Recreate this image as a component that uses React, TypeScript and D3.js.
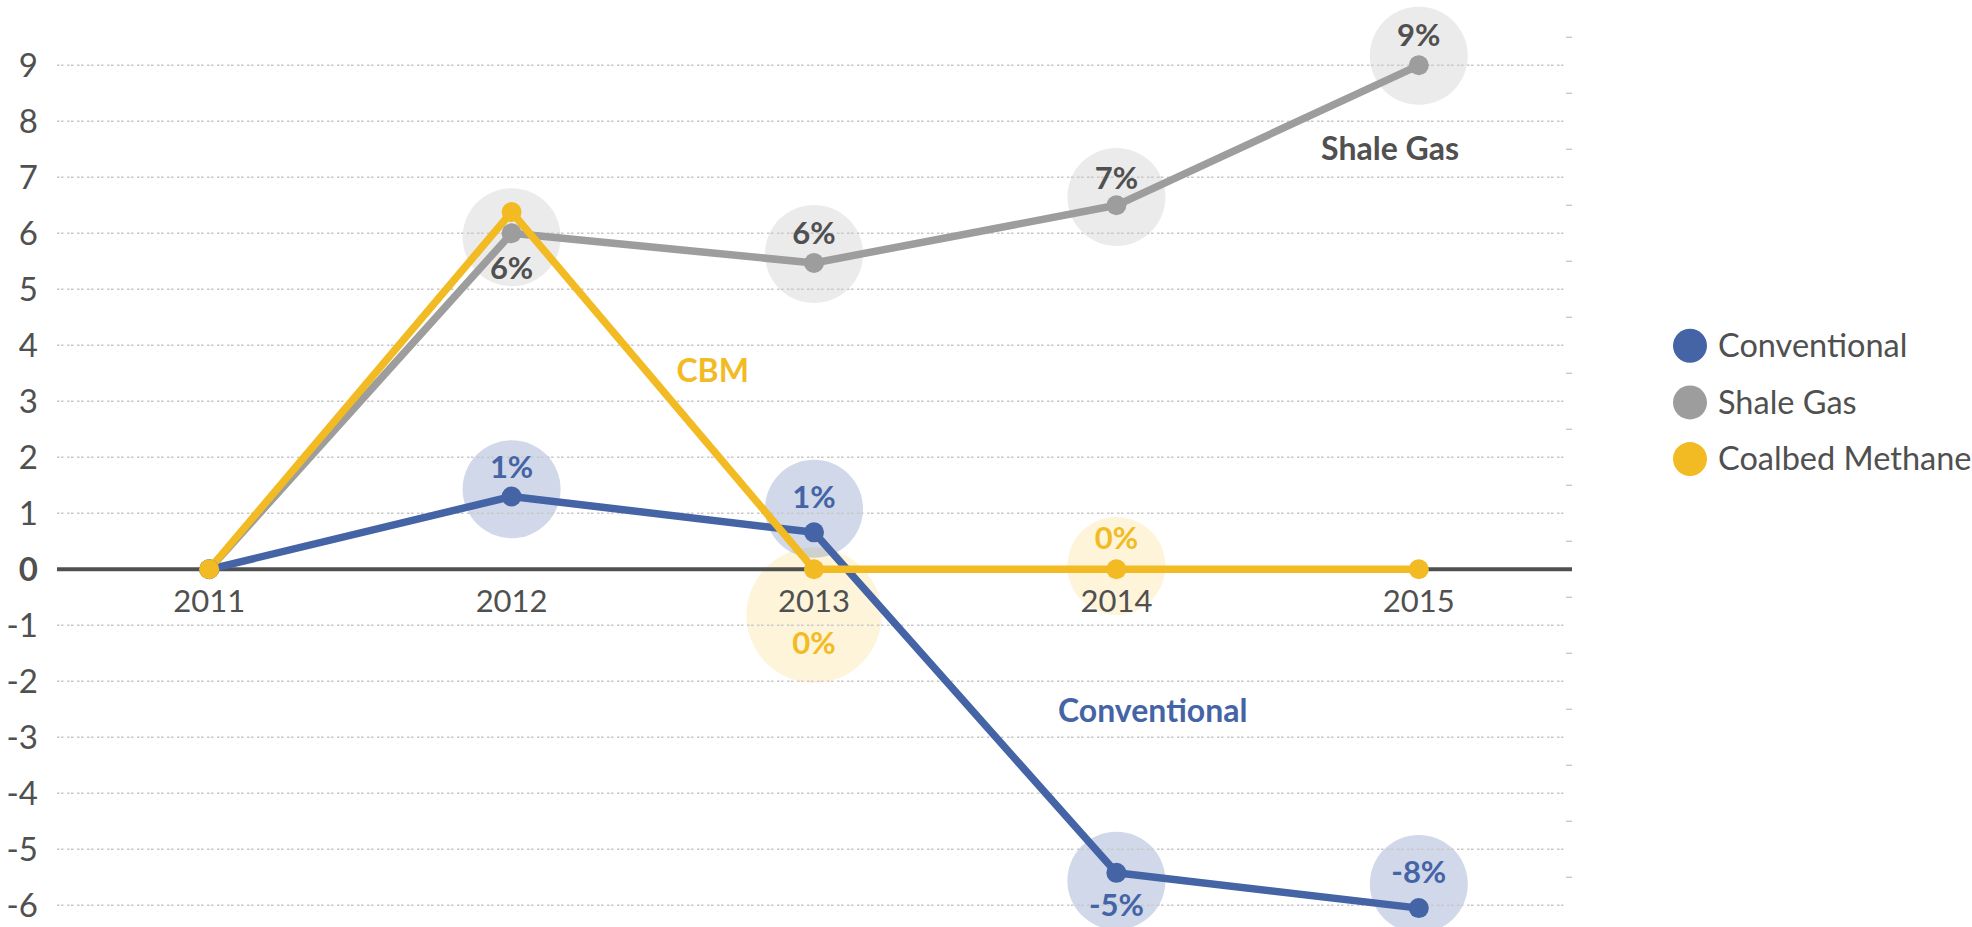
import React from 'react'
import * as d3 from 'd3'

// categories
const years = ['2011', '2012', '2013', '2014', '2015']
const yTicks = [-6, -5, -4, -3, -2, -1, 0, 1, 2, 3, 4, 5, 6, 7, 8, 9]

// series values (growth, %)
const conventional = [0, 1.3, 0.66, -5.42, -6.05]
const shaleGas = [0, 6.0, 5.47, 6.5, 9.0]
const coalbedMethane = [0, 6.38, 0, 0, 0]

// point labels, where they sit (value units) and their bubbles
const conventionalLabels = [null, '1%', '1%', '-5%', '-8%']
const conventionalLabelAt = [null, 1.83, 1.29, -5.99, -5.4]
const conventionalBubble = [null, 1.43, 1.08, -5.56, -5.62]
const conventionalBubbleSize = [0, 1, 1, 1, 1]

const shaleLabels = [null, '6%', '6%', '7%', '9%']
const shaleLabelAt = [null, 5.38, 6.0, 6.99, 9.54]
const shaleBubble = [null, 5.93, 5.63, 6.65, 9.17]
const shaleBubbleSize = [0, 1, 1, 1, 1]

const cbmLabels = [null, null, '0%', '0%', null]
const cbmLabelAt = [null, null, -1.31, 0.56, null]
const cbmBubble = [null, null, -0.82, 0.06, null]
const cbmBubbleSize = [0, 0, 1.38, 1, 0]

// series names (legend) and in-chart names: [name, year index, value]
const legendNames = ['Conventional', 'Shale Gas', 'Coalbed Methane']
const inlineNames = [
  ['Conventional', 3.12, -2.73],
  ['Shale Gas', 3.905, 7.31],
  ['CBM', 1.665, 3.35],
]

const BLUE = '#4564a6'
const GRAY = '#9d9d9d'
const YELLOW = '#f2bb24'
const TEXT = '#505050'

const series = [
  { key: 'shale', values: shaleGas, color: GRAY, text: TEXT, halo: GRAY, haloOp: 0.2, labels: shaleLabels, labelAt: shaleLabelAt, bubble: shaleBubble, size: shaleBubbleSize },
  { key: 'cbm', values: coalbedMethane, color: YELLOW, text: YELLOW, halo: YELLOW, haloOp: 0.17, labels: cbmLabels, labelAt: cbmLabelAt, bubble: cbmBubble, size: cbmBubbleSize },
  { key: 'conv', values: conventional, color: BLUE, text: BLUE, halo: BLUE, haloOp: 0.25, labels: conventionalLabels, labelAt: conventionalLabelAt, bubble: conventionalBubble, size: conventionalBubbleSize },
]

const W = 1972
const H = 927
const font = 'Lato, "Open Sans", sans-serif'

export default function App() {
  const x = d3.scalePoint().domain(years).range([58, 1570]).padding(0.5)
  const xi = d3.scaleLinear().domain([0, years.length - 1]).range([x(years[0]), x(years[years.length - 1])])
  const y = d3.scaleLinear().domain([-6, 9]).range([905.3, 65.3])

  const gridLeft = 57
  const gridRight = 1565

  const line = d3.line<number>()
    .x((d, i) => x(years[i]))
    .y(d => y(d))

  const minor = d3.range(-5.5, 9.6, 1)

  // drawing order for lines: gray, blue, yellow
  const lineOrder = [series[0], series[2], series[1]]

  return (
    <svg width={W} height={H} style={{ position: 'absolute', left: 0, top: 0, background: '#fff' }}>
      {/* bubbles */}
      <g>
        {series.map(s => s.bubble.map((b, i) => b == null ? null : (
          <circle key={s.key + 'b' + i} cx={x(years[i])} cy={y(b)} r={49 * s.size[i]} fill={s.halo} fillOpacity={s.haloOp} />
        )))}
      </g>

      {/* grid */}
      <g>
        {yTicks.filter(t => t !== 0).map(t => (
          <line key={t} x1={gridLeft} x2={gridRight} y1={y(t)} y2={y(t)} stroke="#c8c8c8" strokeWidth={1.6} strokeDasharray="2.5,1.5,2.5,3.5" />
        ))}
        {minor.map(t => (
          <line key={'m' + t} x1={1566} x2={1572} y1={y(t)} y2={y(t)} stroke="#c8c8c8" strokeWidth={1.4} />
        ))}
        <line x1={gridLeft} x2={1572} y1={y(0)} y2={y(0)} stroke="#505050" strokeWidth={4} />
      </g>

      {/* y axis labels */}
      <g fontFamily={font} fontSize={33} fill={TEXT} textAnchor="end">
        {yTicks.map(t => (
          <text key={t} x={38} y={y(t)} dy="0.35em" fontWeight={t === 0 ? 700 : 400}>{t}</text>
        ))}
      </g>

      {/* x axis labels */}
      <g fontFamily={font} fontSize={31} fill={TEXT} textAnchor="middle">
        {years.map(yr => (
          <text key={yr} x={x(yr)} y={612}>{yr}</text>
        ))}
      </g>

      {/* lines */}
      <g fill="none" strokeLinejoin="round">
        {lineOrder.map(s => (
          <path key={s.key} d={line(s.values) || ''} stroke={s.color} strokeWidth={7.5} />
        ))}
      </g>
      <g>
        {lineOrder.map(s => s.values.map((v, i) => (
          <circle key={s.key + i} cx={x(years[i])} cy={y(v)} r={10} fill={s.color} />
        )))}
      </g>

      {/* point labels */}
      <g fontFamily={font} fontSize={31} fontWeight={700} textAnchor="middle">
        {series.map(s => s.labels.map((l, i) => l == null ? null : (
          <text key={s.key + 'l' + i} x={x(years[i])} y={y(s.labelAt[i] as number)} dy="0.35em" fill={s.text}>{l}</text>
        )))}
      </g>

      {/* in-chart series names */}
      <g fontFamily={font} fontSize={32} fontWeight={700} textAnchor="middle">
        {inlineNames.map(([name, idx, v], k) => (
          <text key={name as string} x={xi(idx as number)} y={y(v as number)} fill={[BLUE, TEXT, YELLOW][k]}>{name}</text>
        ))}
      </g>

      {/* legend */}
      <g fontFamily={font} fontSize={32.5} fill={TEXT}>
        {legendNames.map((n, k) => (
          <g key={n} transform={`translate(1690, ${345.7 + k * 56.7})`}>
            <circle r={17} fill={[BLUE, GRAY, YELLOW][k]} />
            <text x={28} dy="0.35em">{n}</text>
          </g>
        ))}
      </g>
    </svg>
  )
}
